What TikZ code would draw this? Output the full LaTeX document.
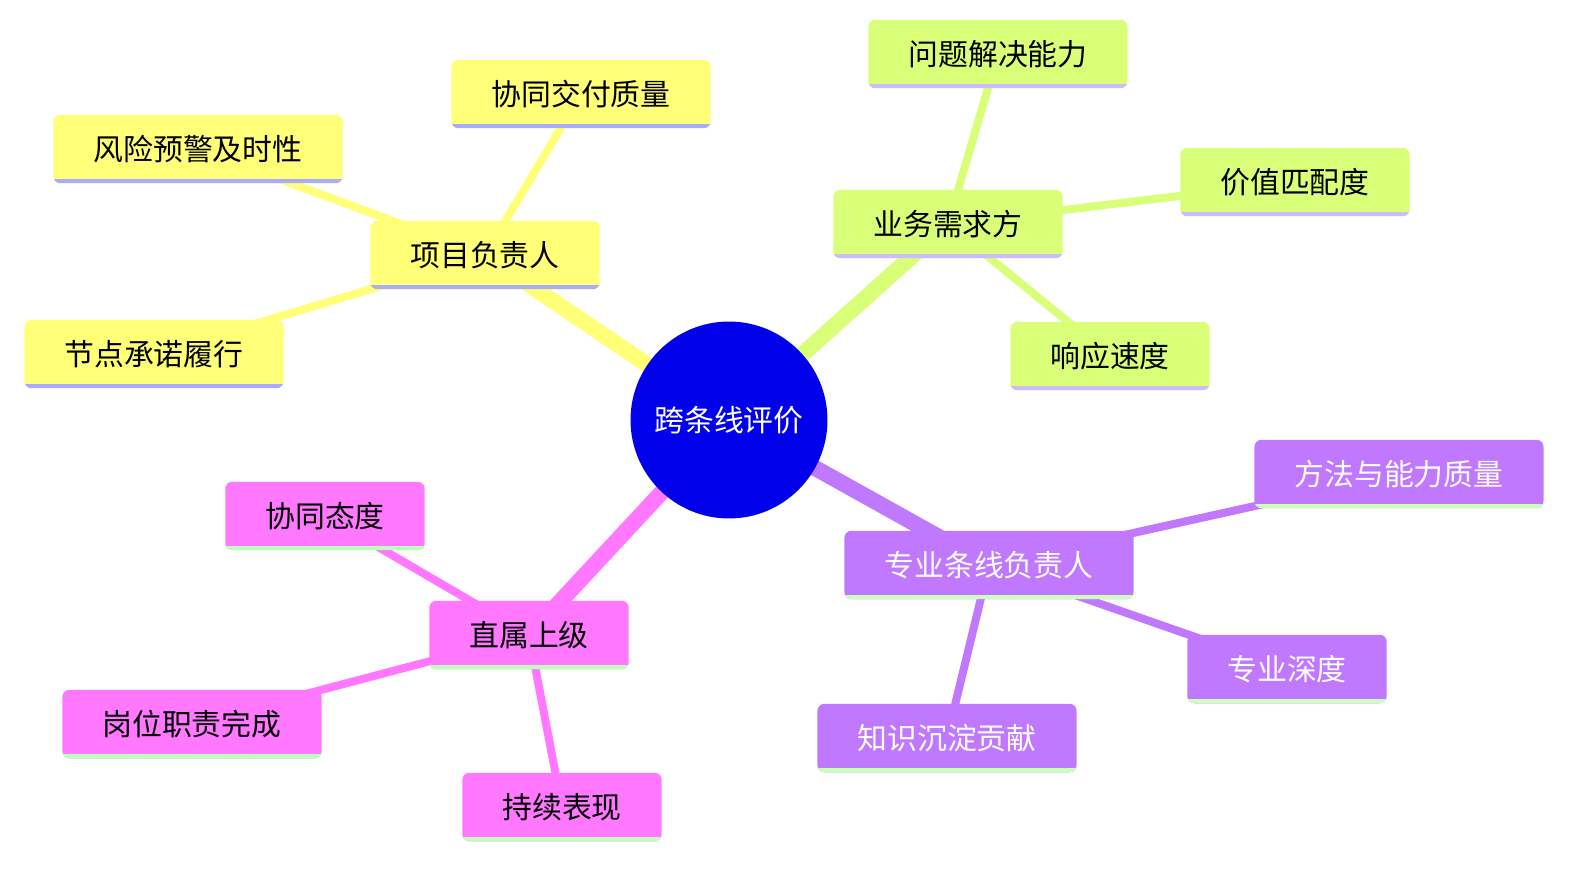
\documentclass[tikz,border=0pt]{standalone}
\usepackage{fontspec}
\setmainfont{Noto Sans CJK SC}
\usetikzlibrary{backgrounds}
\definecolor{rootblue}{HTML}{0000EB}
\definecolor{ylw}{HTML}{FFFF78}
\definecolor{grn}{HTML}{D9FF78}
\definecolor{prp}{HTML}{C078FF}
\definecolor{pnk}{HTML}{FF78FF}
\definecolor{ylwline}{HTML}{AAAAFF}
\definecolor{grnline}{HTML}{CCBBFF}
\definecolor{prpline}{HTML}{CCFFBB}
\definecolor{pnkline}{HTML}{BBFFBB}

\begin{document}
\begin{tikzpicture}[x=0.02cm,y=-0.02cm]
		\tikzstyle{topic}=[rounded corners=4pt,minimum height=1.37cm,inner xsep=0.8cm,
			font=\fontsize{17}{20}\selectfont]
		\tikzstyle{under}=[path picture={\draw[line width=0.17cm,#1]
			(path picture bounding box.south west) -- (path picture bounding box.south east);}]
		\tikzstyle{yellow topic}=[topic, fill=ylw, under=ylwline]
		\tikzstyle{green topic}=[topic, fill=grn, under=grnline]
		\tikzstyle{purple topic}=[topic, fill=prp, text=white, under=prpline]
		\tikzstyle{pink topic}=[topic, fill=pnk, under=pnkline]
		\tikzstyle{main link}=[line width=0.32cm]
		\tikzstyle{leaf link}=[line width=0.16cm]
		\useasboundingbox (0,0) rectangle (1587,869);

		% Root
		\node[circle,fill=rootblue,text=white,minimum size=3.94cm,inner sep=0pt,
			font=\fontsize{17}{20}\selectfont] (root) at (729,420) {跨条线评价};

		% Project lead branch
		\node[yellow topic] (P) at (485,255) {项目负责人};
		\node[yellow topic] (P-1) at (198,149) {风险预警及时性};
		\node[yellow topic] (P-2) at (581,94) {协同交付质量};
		\node[yellow topic] (P-3) at (154,354) {节点承诺履行};

		% Business side branch
		\node[green topic] (B) at (948,224) {业务需求方};
		\node[green topic] (B-1) at (998,54) {问题解决能力};
		\node[green topic] (B-2) at (1295,182) {价值匹配度};
		\node[green topic] (B-3) at (1110,356) {响应速度};

		% Professional line branch
		\node[purple topic] (S) at (989,565) {专业条线负责人};
		\node[purple topic] (S-1) at (1399,474) {方法与能力质量};
		\node[purple topic] (S-2) at (1287,669) {专业深度};
		\node[purple topic] (S-3) at (947,738) {知识沉淀贡献};

		% Direct manager branch
		\node[pink topic] (M) at (529,635) {直属上级};
		\node[pink topic] (M-1) at (325,516) {协同态度};
		\node[pink topic] (M-2) at (192,724) {岗位职责完成};
		\node[pink topic] (M-3) at (562,807) {持续表现};

		% Links behind the nodes
		\begin{scope}[on background layer]
			\draw[main link,ylw] (root.center) -- (P.center);
			\draw[main link,grn] (root.center) -- (B.center);
			\draw[main link,prp] (root.center) -- (S.center);
			\draw[main link,pnk] (root.center) -- (M.center);
			\foreach \i in {1,2,3}{
				\draw[leaf link,ylw] (P.center) -- (P-\i.center);
				\draw[leaf link,grn] (B.center) -- (B-\i.center);
				\draw[leaf link,prp] (S.center) -- (S-\i.center);
				\draw[leaf link,pnk] (M.center) -- (M-\i.center);
			}
		\end{scope}
	\end{tikzpicture}
\end{document}
